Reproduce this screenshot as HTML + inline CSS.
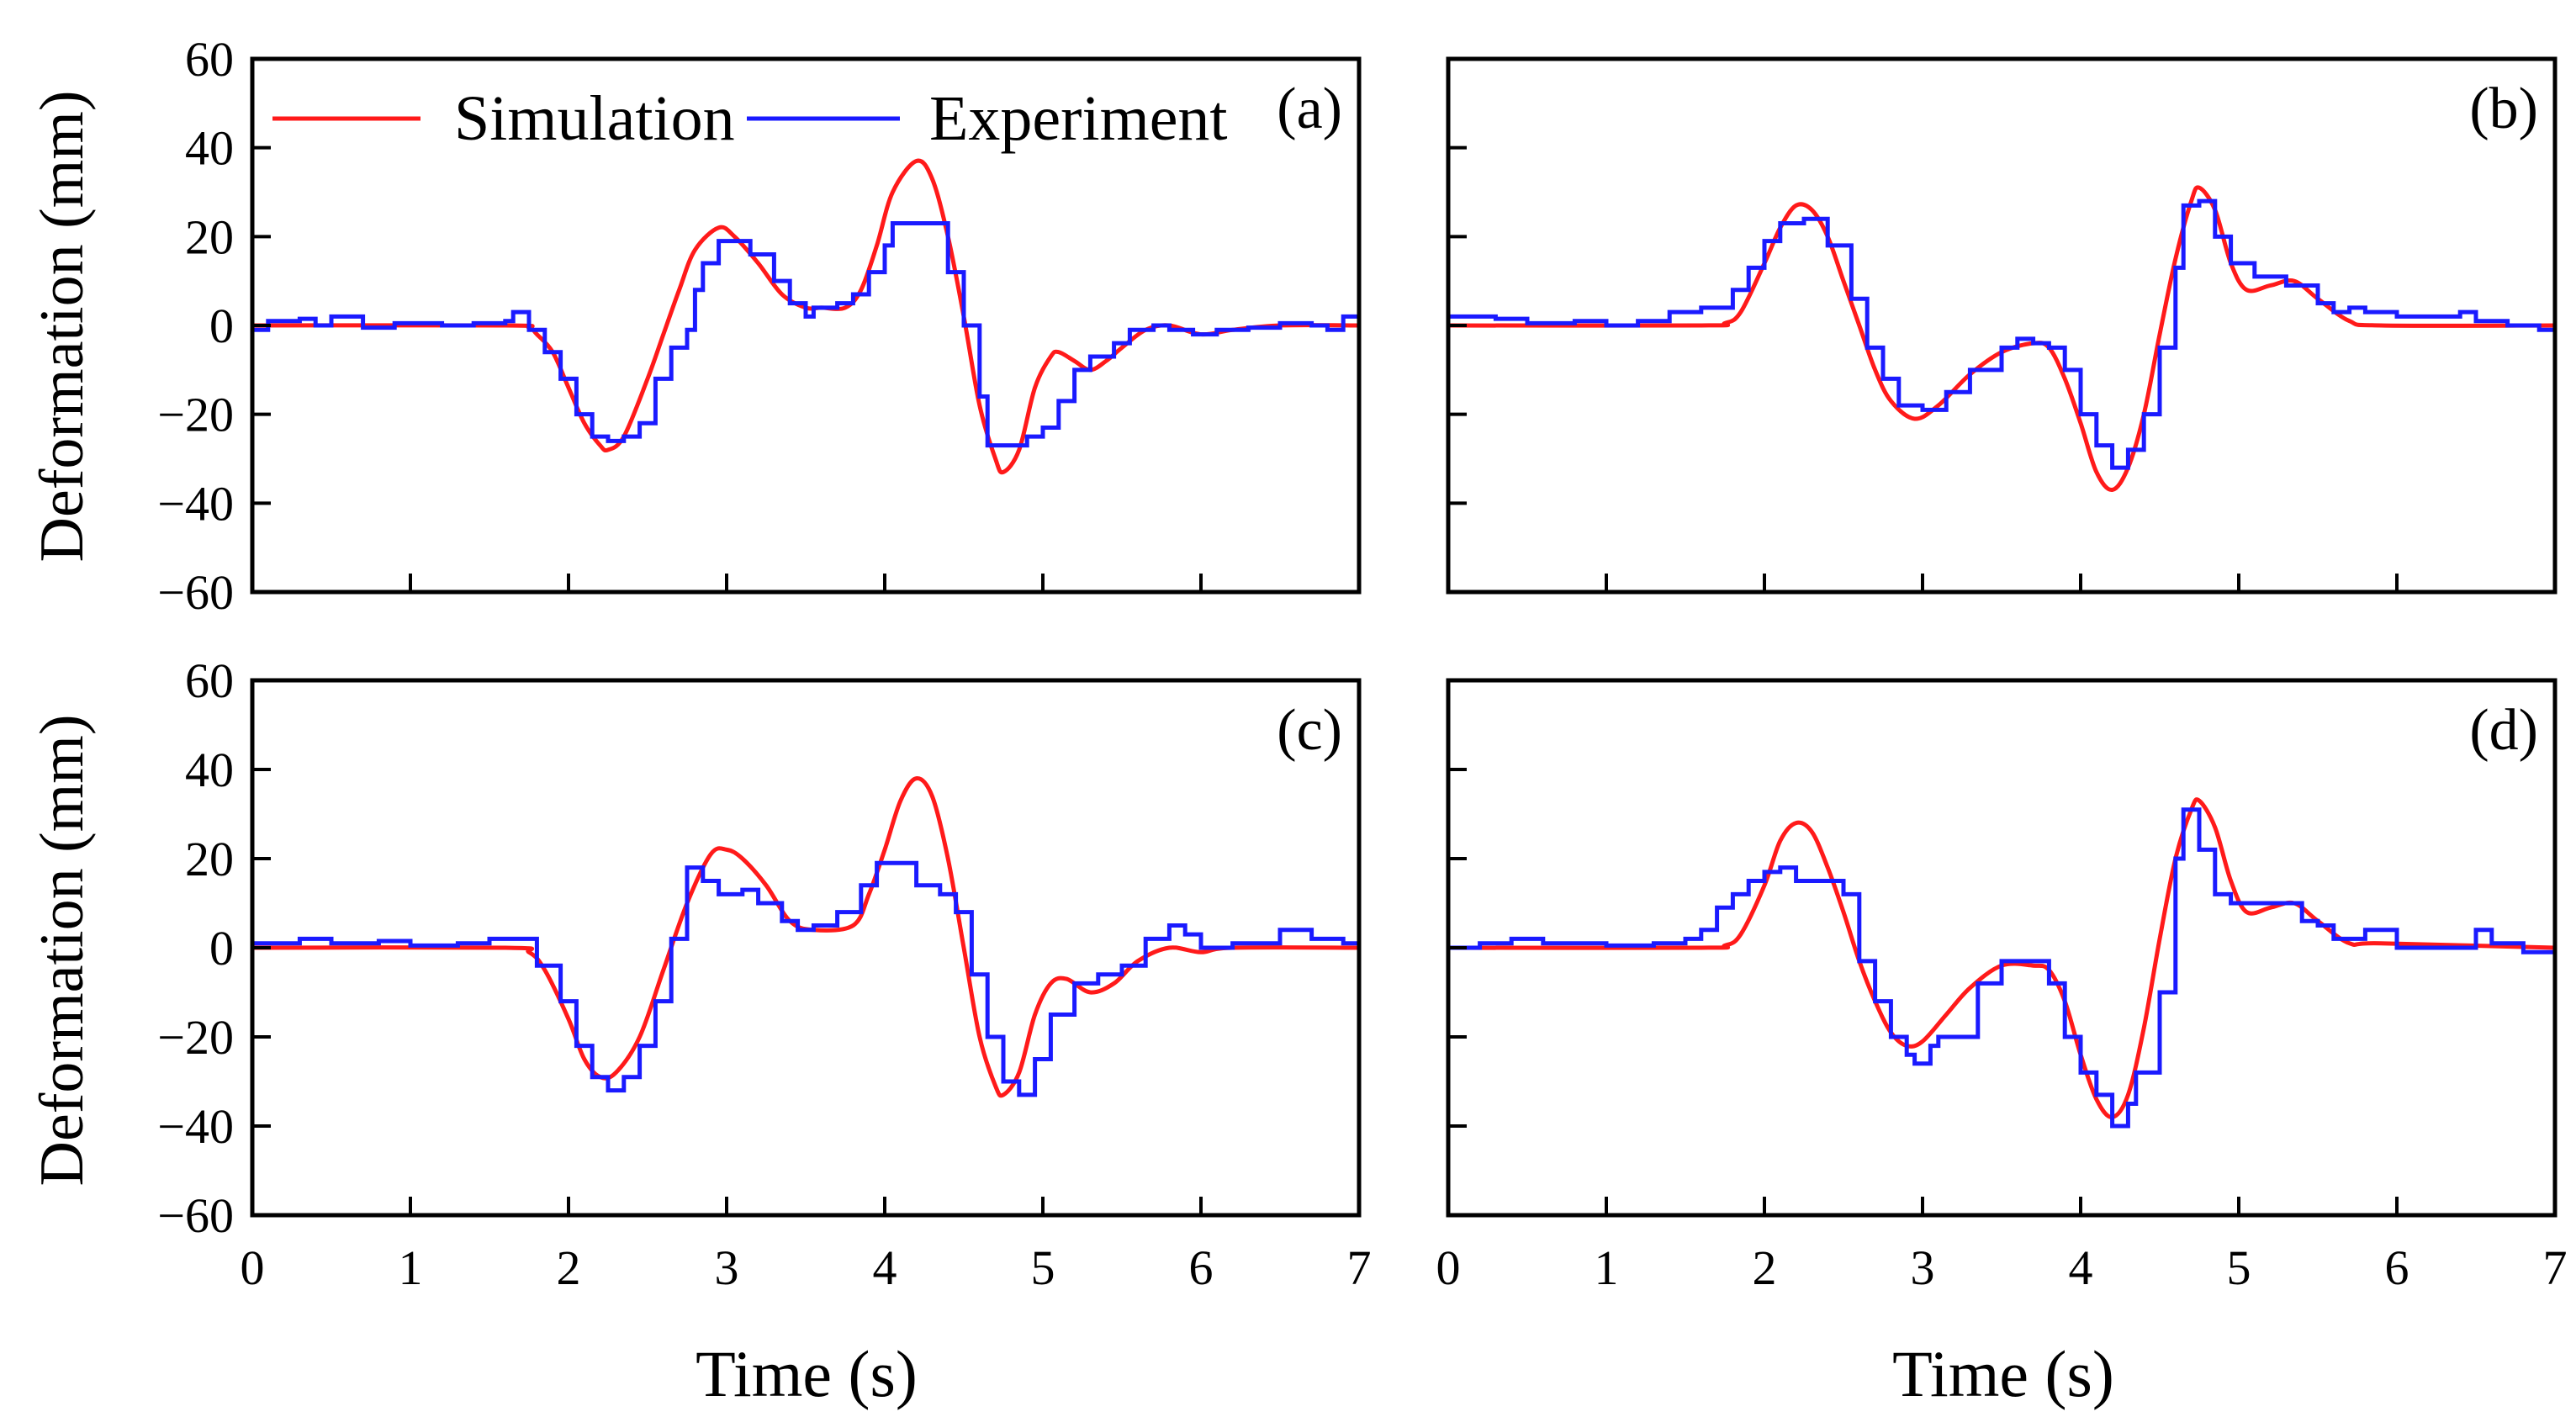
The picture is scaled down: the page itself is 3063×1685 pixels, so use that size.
<!DOCTYPE html>
<html><head><meta charset="utf-8"><style>
html,body{margin:0;padding:0;background:#fff;}
svg{display:block;font-family:"Liberation Serif",serif;}
</style></head><body>
<svg id="fig" width="3063" height="1685" viewBox="0 0 3063 1685" xmlns="http://www.w3.org/2000/svg">
<rect width="3063" height="1685" fill="#fff"/>
<text x="0" y="0" transform="translate(98,388) rotate(-90)" font-size="74" text-anchor="middle">Deformation (mm)</text>
<text x="0" y="0" transform="translate(98,1130) rotate(-90)" font-size="74" text-anchor="middle">Deformation (mm)</text>
<text x="959" y="1660" font-size="78" text-anchor="middle">Time (s)</text>
<text x="2382" y="1660" font-size="78" text-anchor="middle">Time (s)</text>
<g id="plots"></g>
</svg>
<script>
const xTicks=[0,1,2,3,4,5,6,7];
const yTicks=[-60,-40,-20,0,20,40,60];
const yTickLabels=["\u221260","\u221240","\u221220","0","20","40","60"];
const simT_a=[0,1.6,1.75,1.8,1.9,2.0,2.1,2.2,2.25,2.35,2.5,2.6,2.7,2.8,2.95,3.05,3.2,3.35,3.5,3.6,3.75,3.85,3.95,4.05,4.2,4.3,4.4,4.5,4.6,4.7,4.75,4.85,4.95,5.05,5.1,5.2,5.3,5.4,5.5,5.65,5.8,6.0,6.2,6.5,7];
const simV_a=[0,0,-0.5,-2,-6,-14,-22,-27,-28,-25,-12,-2,8,17,22,20,14,7,4,4,4,8,18,30,37,33,20,2,-18,-30,-33,-28,-14,-7,-6,-8,-10,-8,-5,-1,0,-2,-1,0,0];
const expT_a=[0,0.1,0.3,0.4,0.5,0.7,0.9,1.2,1.4,1.6,1.65,1.75,1.85,1.95,2.05,2.15,2.25,2.35,2.45,2.55,2.65,2.75,2.8,2.85,2.95,3.05,3.15,3.3,3.4,3.5,3.55,3.7,3.8,3.9,4.0,4.05,4.15,4.3,4.4,4.5,4.6,4.65,4.8,4.9,5.0,5.1,5.2,5.3,5.45,5.55,5.7,5.8,5.95,6.1,6.3,6.5,6.7,6.8,6.9,7];
const expV_a=[-1,1,1.5,0,2,-0.5,0.5,0,0.5,1,3,-1,-6,-12,-20,-25,-26,-25,-22,-12,-5,-1,8,14,19,19,16,10,5,2,4,5,7,12,18,23,23,23,12,0,-16,-27,-27,-25,-23,-17,-10,-7,-4,-1,0,-1,-2,-1,-0.5,0.5,0,-1,2,3];
const simT_b=[0,1.6,1.75,1.85,2.0,2.1,2.2,2.3,2.4,2.5,2.6,2.7,2.8,2.95,3.1,3.3,3.5,3.7,3.8,3.9,4.0,4.1,4.2,4.3,4.4,4.5,4.6,4.7,4.75,4.85,4.95,5.05,5.2,5.35,5.5,5.7,5.9,7];
const simV_b=[0,0,0.5,3,14,22,27,26,20,10,0,-10,-17,-21,-18,-11,-6,-4,-5,-12,-22,-33,-37,-32,-20,-2,15,28,31,26,14,8,9,10,6,1,0,0];
const expT_b=[0,0.3,0.5,0.8,1.0,1.2,1.4,1.6,1.8,1.9,2.0,2.1,2.25,2.4,2.55,2.65,2.75,2.85,3.0,3.15,3.3,3.5,3.6,3.7,3.8,3.9,4.0,4.1,4.2,4.3,4.4,4.5,4.6,4.65,4.75,4.85,4.95,5.1,5.3,5.5,5.6,5.7,5.8,6.0,6.2,6.4,6.5,6.7,6.9,7];
const expV_b=[2,1.5,0.5,1,0,1,3,4,8,13,19,23,24,18,6,-5,-12,-18,-19,-15,-10,-5,-3,-4,-5,-10,-20,-27,-32,-28,-20,-5,13,27,28,20,14,11,9,5,3,4,3,2,2,3,1,0,-1,0];
const simT_c=[0,1.6,1.75,1.85,2.0,2.1,2.2,2.3,2.45,2.6,2.75,2.9,3.0,3.1,3.25,3.4,3.55,3.8,3.9,4.0,4.1,4.2,4.3,4.4,4.5,4.6,4.7,4.75,4.85,4.95,5.05,5.15,5.3,5.45,5.6,5.8,6.0,6.2,7];
const simV_c=[0,0,-1,-5,-16,-25,-29,-28,-20,-5,10,21,22,20,14,6,4,5,12,22,33,38,34,20,0,-20,-31,-33,-28,-15,-8,-7,-10,-8,-3,0,-1,0,0];
const expT_c=[0,0.3,0.5,0.8,1.0,1.3,1.5,1.7,1.8,1.95,2.05,2.15,2.25,2.35,2.45,2.55,2.65,2.75,2.85,2.95,3.1,3.2,3.35,3.45,3.55,3.7,3.85,3.95,4.1,4.2,4.35,4.45,4.55,4.65,4.75,4.85,4.95,5.05,5.2,5.35,5.5,5.65,5.8,5.9,6.0,6.2,6.5,6.7,6.9,7];
const expV_c=[1,2,1,1.5,0.5,1,2,2,-4,-12,-22,-29,-32,-29,-22,-12,2,18,15,12,13,10,6,4,5,8,14,19,19,14,12,8,-6,-20,-30,-33,-25,-15,-8,-6,-4,2,5,3,0,1,4,2,1,2];
const simT_d=[0,1.6,1.75,1.85,2.0,2.1,2.2,2.3,2.4,2.5,2.6,2.7,2.8,2.9,3.0,3.15,3.3,3.5,3.7,3.8,3.9,4.0,4.1,4.2,4.3,4.4,4.5,4.6,4.7,4.75,4.85,4.95,5.05,5.2,5.35,5.5,5.7,5.9,7];
const simV_d=[0,0,0.5,3,14,24,28,26,18,8,-3,-12,-19,-22,-21,-15,-9,-4,-4,-5,-12,-24,-34,-38,-33,-18,2,20,31,33,27,15,8,9,10,6,1,1,0];
const expT_d=[0,0.2,0.4,0.6,0.8,1.0,1.3,1.5,1.6,1.7,1.8,1.9,2.0,2.1,2.2,2.35,2.5,2.6,2.7,2.8,2.9,2.95,3.05,3.1,3.3,3.35,3.5,3.6,3.7,3.8,3.9,4.0,4.1,4.2,4.3,4.35,4.45,4.5,4.6,4.65,4.75,4.85,4.95,5.1,5.3,5.4,5.5,5.6,5.8,6.0,6.3,6.5,6.6,6.8,7];
const expV_d=[0,1,2,1,1,0.5,1,2,4,9,12,15,17,18,15,15,12,-3,-12,-20,-24,-26,-22,-20,-20,-8,-3,-3,-3,-8,-20,-28,-33,-40,-35,-28,-28,-10,20,31,22,12,10,10,10,6,5,2,4,0,0,4,1,-1,1];

const panels=[
 {id:"a",x0:300,x1:1616,y0:70,y1:704,st:simT_a,sv:simV_a,et:expT_a,ev:expV_a,yl:true,xl:false},
 {id:"b",x0:1722,x1:3038,y0:70,y1:704,st:simT_b,sv:simV_b,et:expT_b,ev:expV_b,yl:false,xl:false},
 {id:"c",x0:300,x1:1616,y0:809,y1:1445,st:simT_c,sv:simV_c,et:expT_c,ev:expV_c,yl:true,xl:true},
 {id:"d",x0:1722,x1:3038,y0:809,y1:1445,st:simT_d,sv:simV_d,et:expT_d,ev:expV_d,yl:false,xl:true}
];
const NS="http://www.w3.org/2000/svg";
const root=document.getElementById("plots");
function mk(tag,attrs,parent){const e=document.createElementNS(NS,tag);for(const k in attrs)e.setAttribute(k,attrs[k]);parent.appendChild(e);return e;}
panels.forEach(p=>{
 const g=mk("g",{},root);
 
 
 const sx=t=>p.x0+(t-0)/(7-0)*(p.x1-p.x0);
 const sy=v=>p.y1-(v+60)/120*(p.y1-p.y0);
 let d="M"+sx(p.et[0])+","+sy(p.ev[0]);
 for(let i=1;i<p.et.length;i++){d+=" H"+sx(p.et[i])+" V"+sy(p.ev[i]);}
 const pts=p.st.map((t,i)=>[sx(t),sy(p.sv[i])]);
 let s="M"+pts[0][0]+","+pts[0][1];
 for(let i=0;i<pts.length-1;i++){
  const p0=pts[Math.max(0,i-1)],p1=pts[i],p2=pts[i+1],p3=pts[Math.min(pts.length-1,i+2)];
  const c1=[p1[0]+(p2[0]-p0[0])/6,p1[1]+(p2[1]-p0[1])/6];
  const c2=[p2[0]-(p3[0]-p1[0])/6,p2[1]-(p3[1]-p1[1])/6];
  s+=` C${c1[0]},${c1[1]} ${c2[0]},${c2[1]} ${p2[0]},${p2[1]}`;
 }
 const sim=mk("path",{d:s,fill:"none",stroke:"#ff1a1a","stroke-width":5,"stroke-linejoin":"round"},g);
 
 
 const exp=mk("path",{d:d,fill:"none",stroke:"#1a1aff","stroke-width":5},g);
 
 
 const frame=mk("rect",{x:p.x0,y:p.y0,width:p.x1-p.x0,height:p.y1-p.y0,fill:"none",stroke:"#000","stroke-width":5},g);
 
 
 xTicks.forEach(t=>{
  const tk=mk("line",{x1:sx(t),x2:sx(t),y1:p.y1,y2:p.y1-22,stroke:"#000","stroke-width":4},g);
  
  
  if(p.xl){const tl=mk("text",{x:sx(t),y:p.y1+82,"font-size":58,"text-anchor":"middle"},g);tl.textContent=t;
   
   }
 });
 yTicks.forEach((v,i)=>{
  const tk=mk("line",{x1:p.x0,x2:p.x0+22,y1:sy(v),y2:sy(v),stroke:"#000","stroke-width":4},g);
  
  
  if(p.yl){const tl=mk("text",{x:p.x0-22,y:sy(v)+20,"font-size":58,"text-anchor":"end"},g);tl.textContent=yTickLabels[i];
   
   }
 });
 const lab=mk("text",{x:p.x1-20,y:p.y0+82,"font-size":70,"text-anchor":"end"},g);
 lab.textContent="("+p.id+")";
 
 
});
const lg=mk("g",{},root);


const l1=mk("line",{x1:324,x2:500,y1:141,y2:141,stroke:"#ff1a1a","stroke-width":5},lg);


const t1=mk("text",{x:540,y:166,"font-size":76},lg);t1.textContent="Simulation";


const l2=mk("line",{x1:888,x2:1070,y1:141,y2:141,stroke:"#1a1aff","stroke-width":5},lg);


const t2=mk("text",{x:1105,y:166,"font-size":76},lg);t2.textContent="Experiment";


</script>
</body></html>
